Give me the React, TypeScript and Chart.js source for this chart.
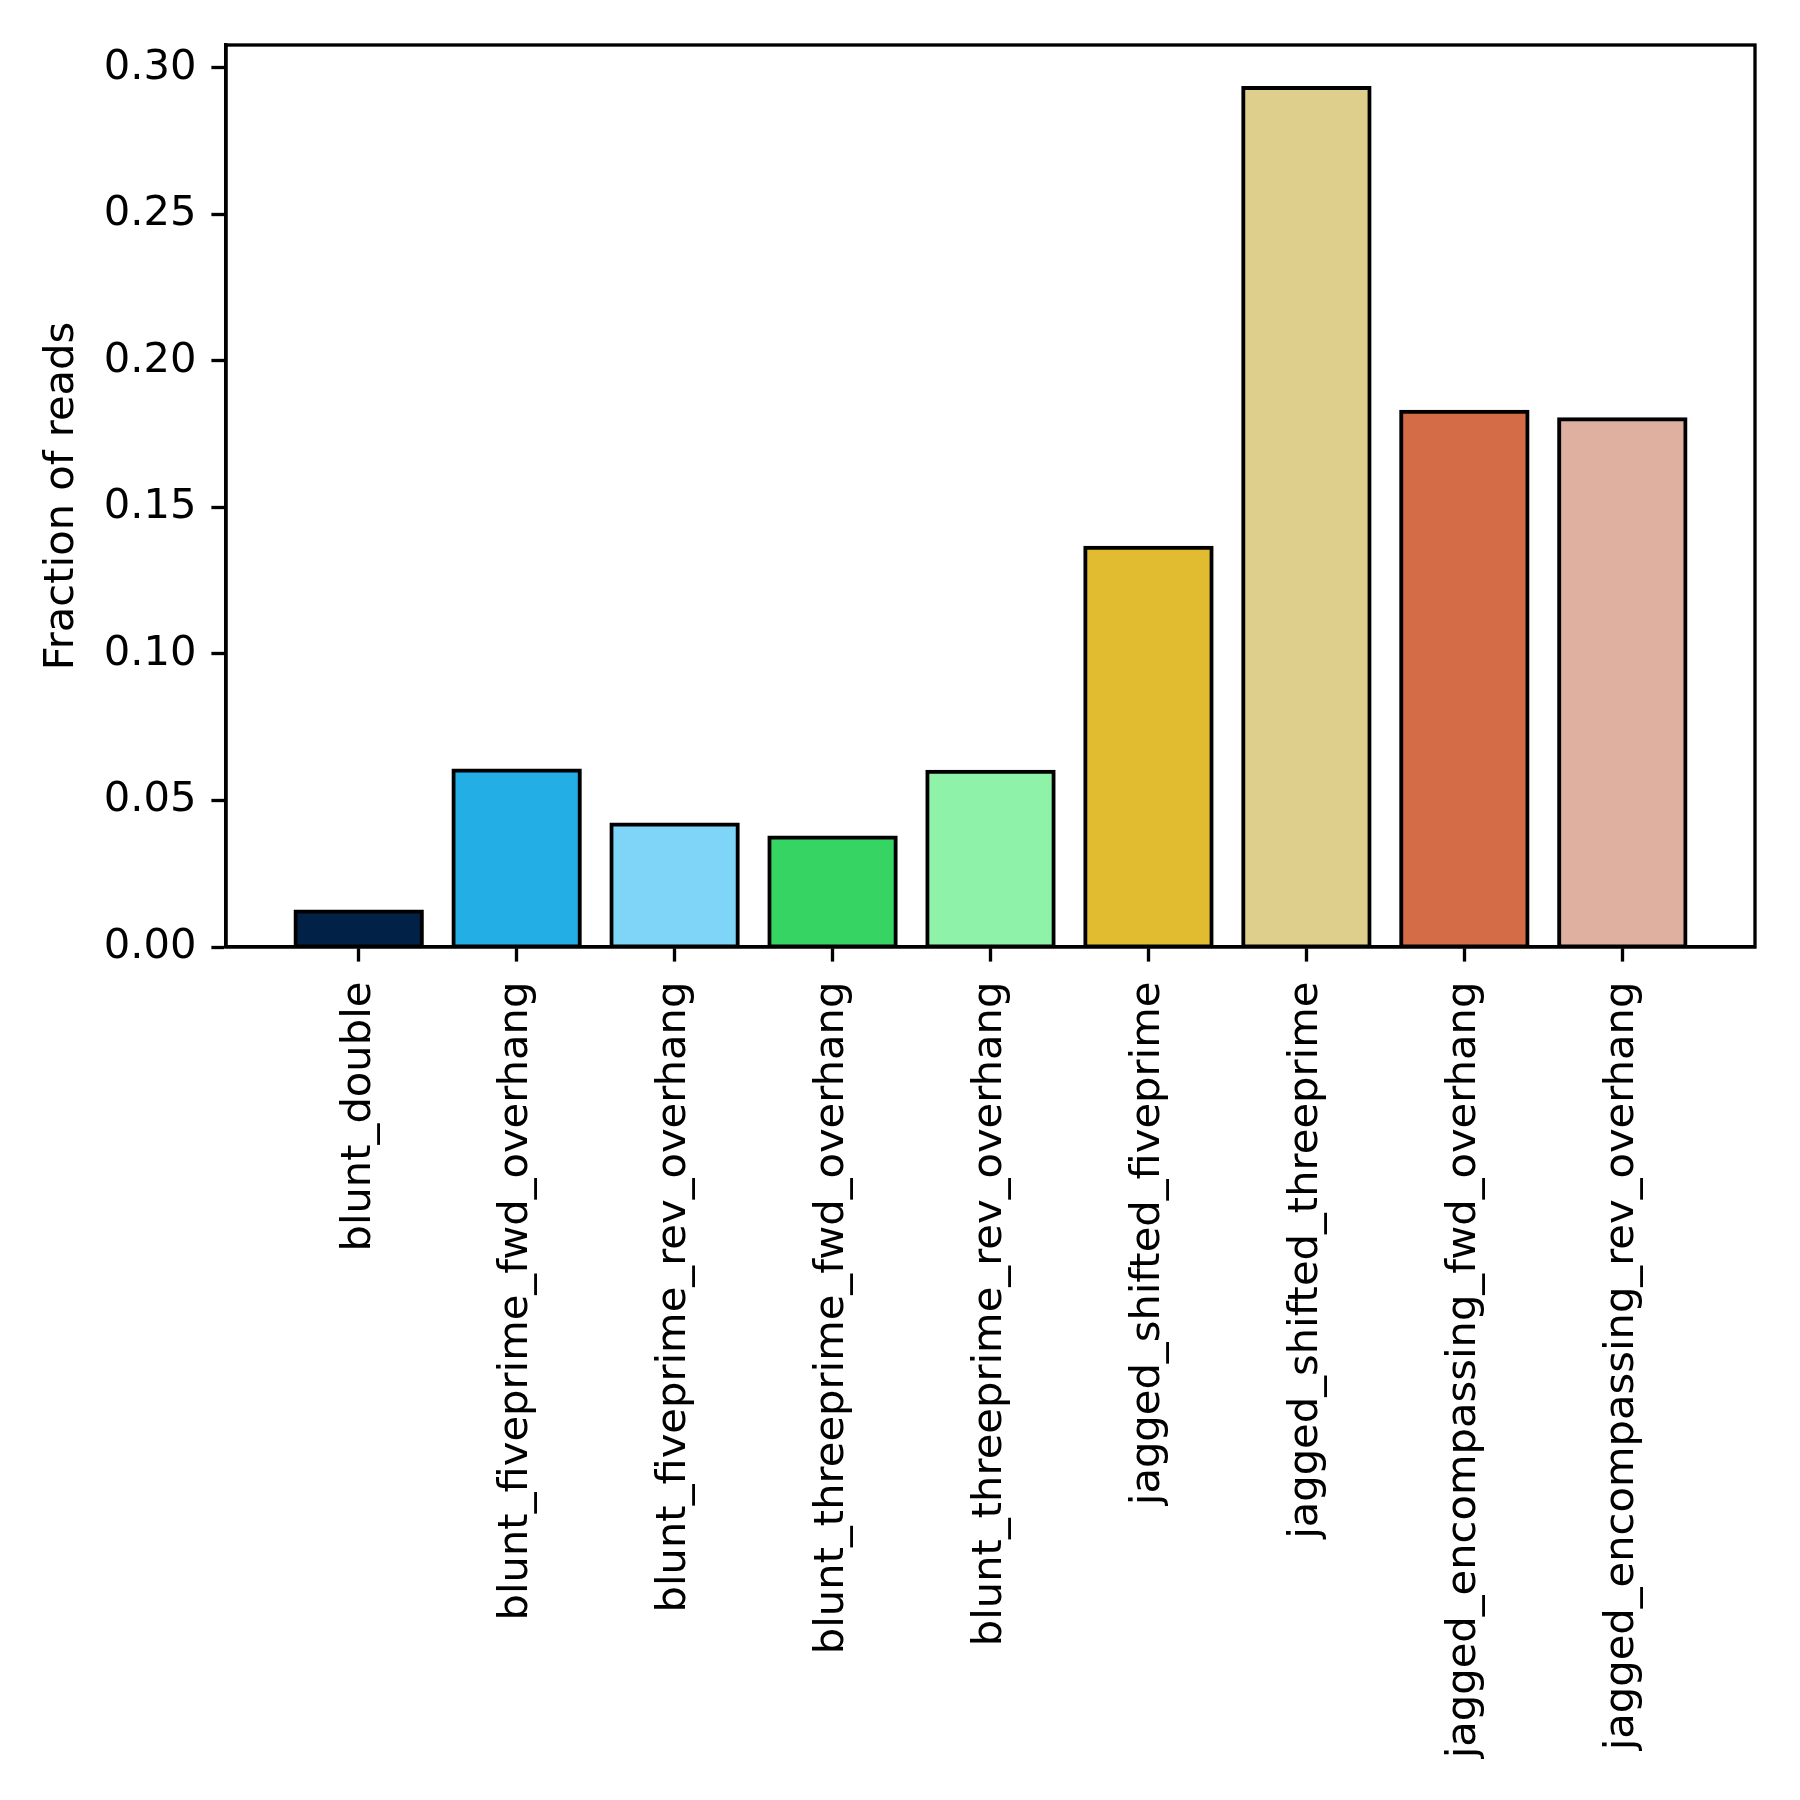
import React, { useEffect, useRef } from "react";
import { Chart, registerables } from "chart.js";

Chart.register(...registerables);

const categories = [
  "blunt_double",
  "blunt_fiveprime_fwd_overhang",
  "blunt_fiveprime_rev_overhang",
  "blunt_threeprime_fwd_overhang",
  "blunt_threeprime_rev_overhang",
  "jagged_shifted_fiveprime",
  "jagged_shifted_threeprime",
  "jagged_encompassing_fwd_overhang",
  "jagged_encompassing_rev_overhang",
];

const fractions = [0.0121, 0.0602, 0.0418, 0.0374, 0.0598, 0.1362, 0.2931, 0.1826, 0.1801];

const barColors = [
  "#022146",
  "#23AEE5",
  "#7ED5F8",
  "#36D462",
  "#8FF2A9",
  "#E2BC30",
  "#DFCF8C",
  "#D46C47",
  "#DFB0A0",
];

const yTicks = [0, 0.05, 0.1, 0.15, 0.2, 0.25, 0.3];
const yLabel = "Fraction of reads";

const FONT = "'DejaVu Sans', sans-serif";
const FS = 41.67;
const LW = 3.33;

const boxPlugin = {
  id: "box",
  afterDraw(chart: any) {
    const { ctx, chartArea } = chart;
    ctx.save();
    ctx.strokeStyle = "#000";
    ctx.lineWidth = LW;
    ctx.strokeRect(chartArea.left, chartArea.top, chartArea.right - chartArea.left, chartArea.bottom - chartArea.top);
    ctx.restore();
  },
};

export default function App() {
  const ref = useRef<HTMLCanvasElement | null>(null);
  useEffect(() => {
    if (!ref.current) return;
    const maxV = Math.max(...fractions);
    const span = categories.length - 1 + 0.8;
    const xMin = -0.4 - 0.05 * span;
    const xMax = categories.length - 1 + 0.4 + 0.05 * span;
    const chart = new Chart(ref.current, {
      type: "bar",
      data: {
        datasets: [
          {
            data: fractions.map((v, i) => ({ x: i, y: v })),
            backgroundColor: barColors,
            borderColor: "#000",
            borderWidth: 4,
            borderSkipped: false,
            inflateAmount: 2,
            barPercentage: 0.8,
            categoryPercentage: 1,
          },
        ],
      },
      options: {
        animation: false,
        responsive: false,
        devicePixelRatio: 1,
        layout: { padding: { left: 0, top: 45, right: 45, bottom: 0 } },
        plugins: { legend: { display: false }, tooltip: { enabled: false } },
        scales: {
          x: {
            type: "linear",
            offset: false,
            min: xMin,
            max: xMax,
            afterBuildTicks: (scale: any) => {
              scale.ticks = categories.map((_, i) => ({ value: i }));
            },
            afterFit: (scale: any) => {
              scale.height = 853;
            },
            grid: {
              display: true,
              offset: false,
              drawOnChartArea: false,
              drawTicks: true,
              tickLength: 14.6,
              tickWidth: LW,
              tickColor: "#000",
            },
            border: { display: true, color: "#000", width: LW },
            ticks: {
              autoSkip: false,
              maxRotation: 90,
              minRotation: 90,
              padding: 20,
              color: "#000",
              font: { family: FONT, size: FS },
              callback: (v: any) => categories[Math.round(Number(v))] ?? "",
            },
          },
          y: {
            type: "linear",
            min: 0,
            max: maxV * 1.05,
            afterBuildTicks: (scale: any) => {
              scale.ticks = yTicks.map((v) => ({ value: v }));
            },
            afterFit: (scale: any) => {
              scale.width = 226;
            },
            grid: {
              display: true,
              drawOnChartArea: false,
              drawTicks: true,
              tickLength: 14.6,
              tickWidth: LW,
              tickColor: "#000",
            },
            border: { display: true, color: "#000", width: LW },
            ticks: {
              padding: 15,
              color: "#000",
              font: { family: FONT, size: FS },
              callback: (v: any) => Number(v).toFixed(2),
            },
            title: {
              display: true,
              text: yLabel,
              color: "#000",
              font: { family: FONT, size: FS },
              padding: { top: 37, bottom: 0 },
            },
          },
        },
      },
      plugins: [boxPlugin],
    } as any);
    return () => chart.destroy();
  }, []);
  return (
    <div style={{ position: "absolute", left: 0, top: 0, width: 1800, height: 1800, background: "#fff" }}>
      <canvas ref={ref} width={1800} height={1800} style={{ width: 1800, height: 1800 }} />
    </div>
  );
}
